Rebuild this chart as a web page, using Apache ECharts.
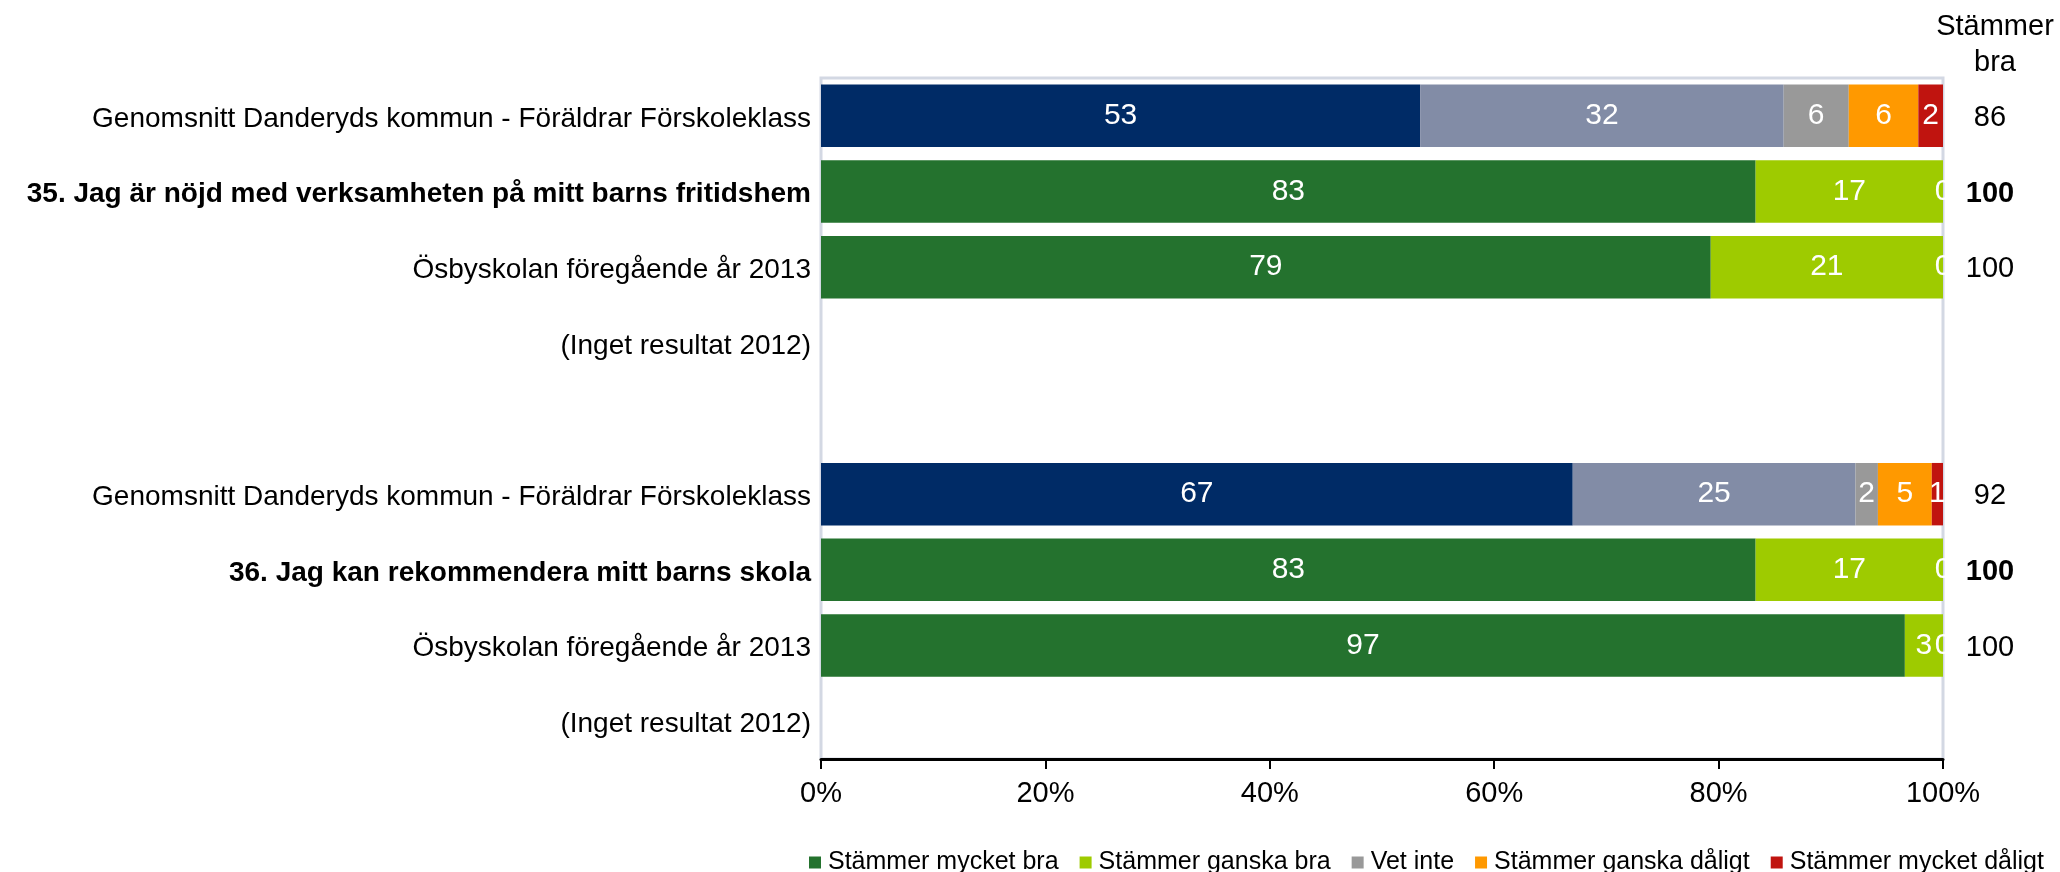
<!DOCTYPE html>
<html><head><meta charset="utf-8">
<script src="https://cdn.jsdelivr.net/npm/echarts@6/dist/echarts.min.js"></script>
<style>html,body{margin:0;padding:0;background:#fff}#c{width:2060px;height:872px}</style>
</head><body><div id="c"></div>
<script>
// Category rows (top to bottom)
const categories = [
  'Genomsnitt Danderyds kommun - Föräldrar Förskoleklass',
  '35. Jag är nöjd med verksamheten på mitt barns fritidshem',
  'Ösbyskolan föregående år 2013',
  '(Inget resultat 2012)',
  '',
  'Genomsnitt Danderyds kommun - Föräldrar Förskoleklass',
  '36. Jag kan rekommendera mitt barns skola',
  'Ösbyskolan föregående år 2013',
  '(Inget resultat 2012)'
];
// Question rows shown in bold
const boldRows = [false, true, false, false, false, false, true, false, false];
// Rows that are municipality averages (comparison colours)
const averageRows = [true, false, false, false, false, true, false, false, false];
// Right-hand column "Stämmer bra"
const stammerBraHeader = 'Stämmer\nbra';
const stammerBra = ['86', '100', '100', '', '', '92', '100', '100', ''];

const seriesNames = ['Stämmer mycket bra', 'Stämmer ganska bra', 'Vet inte', 'Stämmer ganska dåligt', 'Stämmer mycket dåligt'];
const mycketBra    = [53.4, 83.3, 79.3, null, null, 67.0, 83.3, 96.6, null];
const ganskaBra    = [32.4, 16.7, 20.7, null, null, 25.2, 16.7, 3.4, null];
const vetInte      = [5.8, 0, 0, null, null, 2.0, 0, 0, null];
const ganskaDaligt = [6.2, null, null, null, null, 4.8, null, null, null];
const mycketDaligt = [2.2, null, null, null, null, 1.0, null, null, null];
const xTickValues = [0, 20, 40, 60, 80, 100];

const schoolColors  = ['#24722e', '#9ecb00', '#999999', '#ff9900', '#c0140f'];
const averageColors = ['#002b66', '#828ca6', '#999999', '#ff9900', '#c0140f'];
const FONT = "'Liberation Sans', Arial, Helvetica, sans-serif";

const allValues = [mycketBra, ganskaBra, vetInte, ganskaDaligt, mycketDaligt];

const series = allValues.map((vals, si) => ({
  name: seriesNames[si],
  type: 'bar',
  stack: 'total',
  barCategoryGap: '17.5%',
  itemStyle: { color: schoolColors[si] },
  data: vals.map((v, ri) => v == null ? '-' : {
    value: v,
    itemStyle: { color: averageRows[ri] ? averageColors[si] : schoolColors[si] }
  }),
  label: {
    show: true,
    position: 'inside',
    color: '#ffffff',
    fontSize: 30,
    fontFamily: FONT,
    formatter: p => (p.value == null || p.value === '-') ? '' : String(Math.round(p.value))
  },
  emphasis: { disabled: true }
}));

const chart = echarts.init(document.getElementById('c'), null, { renderer: 'canvas' });
chart.setOption({
  animation: false,
  backgroundColor: '#ffffff',
  textStyle: { fontFamily: FONT },
  title: {
    text: stammerBraHeader,
    left: 1990,
    top: 4,
    textAlign: 'center',
    textStyle: { fontSize: 29, fontWeight: 'normal', color: '#000', lineHeight: 36, fontFamily: FONT }
  },
  legend: {
    data: seriesNames,
    left: 804,
    top: 845,
    icon: 'rect',
    itemWidth: 12,
    itemHeight: 12,
    itemGap: 21,
    textStyle: { fontSize: 25, color: '#000', fontFamily: FONT, padding: [0, 0, 0, 2] }
  },
  grid: {
    left: 821, right: 117, top: 78, bottom: 113,
    show: true, borderColor: '#d3d8e3', borderWidth: 3
  },
  xAxis: {
    type: 'value',
    min: 0, max: 100, interval: 20,
    axisLine: { show: true, lineStyle: { color: '#000', width: 3 } },
    axisTick: { show: true, length: 10, lineStyle: { color: '#000', width: 2 } },
    splitLine: { show: false },
    axisLabel: {
      color: '#000', fontSize: 29, margin: 20, fontFamily: FONT,
      formatter: v => xTickValues.includes(v) ? v + '%' : ''
    }
  },
  yAxis: [
    {
      type: 'category',
      data: categories,
      inverse: true,
      axisLine: { show: false },
      axisTick: { show: false },
      splitLine: { show: false },
      axisLabel: {
        margin: 10,
        formatter: (v, i) => boldRows[i] ? '{b|' + v + '}' : '{n|' + v + '}',
        rich: {
          b: { fontSize: 28, fontWeight: 'bold', color: '#000', fontFamily: FONT, padding: [6, 0, 0, 0] },
          n: { fontSize: 28, color: '#000', fontFamily: FONT, padding: [6, 0, 0, 0] }
        }
      }
    },
    {
      type: 'category',
      data: stammerBra,
      inverse: true,
      position: 'right',
      axisLine: { show: false },
      axisTick: { show: false },
      splitLine: { show: false },
      axisLabel: {
        margin: 47,
        align: 'center',
        formatter: (v, i) => boldRows[i] ? '{b|' + v + '}' : '{n|' + v + '}',
        rich: {
          b: { fontSize: 29, fontWeight: 'bold', color: '#000', fontFamily: FONT, padding: [4, 0, 0, 0] },
          n: { fontSize: 29, color: '#000', fontFamily: FONT, padding: [4, 0, 0, 0] }
        }
      }
    }
  ],
  series: series
});
</script>
</body></html>
